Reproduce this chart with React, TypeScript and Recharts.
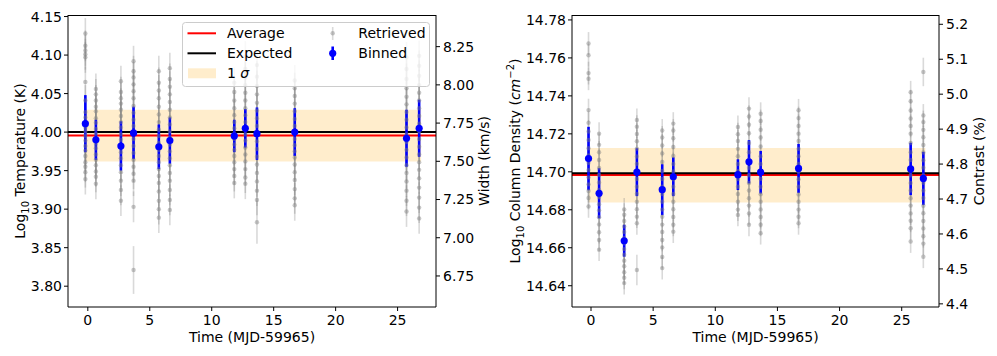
import React from "react";
import { ComposedChart, Scatter, ErrorBar, XAxis, YAxis, ReferenceLine, ReferenceArea } from "recharts";

const FONT = "DejaVu Sans";

// observation epochs (MJD-59965)
const TIMES = [-0.2, 0.65, 2.67, 3.69, 5.73, 6.62, 11.82, 12.71, 13.65, 16.7, 25.72, 26.74];
const BAND_T = [-0.2, 26.9];
const X_TICKS = [0, 5, 10, 15, 20, 25];

// --- left panel: log10 temperature ---
const TEMP_BINNED = [4.011, 3.990, 3.982, 3.999, 3.981, 3.989, 3.995, 4.005, 3.998, 4.000, 3.992, 4.005];
const TEMP_BINNED_ERR = [0.037, 0.026, 0.032, 0.034, 0.029, 0.030, 0.021, 0.025, 0.034, 0.031, 0.037, 0.037];
const TEMP_RETRIEVED = [
  [4.128, 4.112, 4.106, 4.101, 4.097, 4.065, 4.041, 4.026, 4.019, 4.012, 4.006, 4.001, 3.995, 3.989, 3.982, 3.976, 3.969, 3.961, 3.955, 3.948, 3.939],
  [4.056, 4.049, 4.041, 4.033, 4.027, 4.018, 4.012, 4.004, 3.998, 3.991, 3.985, 3.979, 3.971, 3.964, 3.957, 3.949, 3.942, 3.933],
  [4.066, 4.052, 4.044, 4.037, 4.029, 4.021, 4.013, 4.006, 3.997, 3.990, 3.982, 3.974, 3.966, 3.957, 3.948, 3.937, 3.925, 3.911],
  [4.092, 4.079, 4.071, 4.062, 4.053, 4.044, 4.034, 4.025, 4.016, 4.008, 4.000, 3.991, 3.982, 3.973, 3.964, 3.955, 3.946, 3.937, 3.903],
  [4.079, 4.064, 4.054, 4.044, 4.033, 4.023, 4.013, 4.003, 3.995, 3.986, 3.977, 3.969, 3.961, 3.952, 3.943, 3.934, 3.923, 3.911, 3.900, 3.889],
  [4.083, 4.069, 4.059, 4.049, 4.039, 4.029, 4.019, 4.010, 4.001, 3.993, 3.984, 3.975, 3.966, 3.957, 3.947, 3.937, 3.925, 3.912, 3.899],
  [4.064, 4.052, 4.041, 4.031, 4.022, 4.013, 4.005, 3.998, 3.991, 3.984, 3.977, 3.969, 3.961, 3.952, 3.943, 3.934],
  [4.098, 4.082, 4.071, 4.061, 4.051, 4.041, 4.031, 4.022, 4.013, 4.005, 3.997, 3.989, 3.980, 3.971, 3.962, 3.952, 3.941, 3.933],
  [4.087, 4.072, 4.060, 4.049, 4.038, 4.028, 4.018, 4.008, 3.998, 3.988, 3.978, 3.968, 3.958, 3.947, 3.936, 3.924, 3.912],
  [4.067, 4.057, 4.047, 4.037, 4.027, 4.017, 4.008, 3.999, 3.991, 3.983, 3.975, 3.967, 3.958, 3.948, 3.938, 3.926, 3.914, 3.905],
  [4.097, 4.082, 4.069, 4.057, 4.046, 4.036, 4.026, 4.016, 4.006, 3.997, 3.987, 3.977, 3.967, 3.957, 3.947, 3.936, 3.924, 3.911, 3.897],
  [4.099, 4.086, 4.073, 4.061, 4.051, 4.041, 4.031, 4.021, 4.011, 4.001, 3.991, 3.981, 3.971, 3.961, 3.951, 3.940, 3.928, 3.915, 3.902, 3.888],
];
const TEMP_RETRIEVED_ERR = 0.02;
const TEMP_OUTLIER_T = [3.69, 13.65];
const TEMP_OUTLIER_V = [3.821, 3.883];
const TEMP_OUTLIER_ERR = [0.031, 0.028];
const TEMP_AVERAGE = 3.9957;
const TEMP_EXPECTED = 4.0;
const TEMP_SIGMA = [3.962, 4.029];
const TEMP_TICKS = [3.8, 3.85, 3.9, 3.95, 4.0, 4.05, 4.1, 4.15];
const WIDTH_TICKS = [6.75, 7.0, 7.25, 7.5, 7.75, 8.0, 8.25];

// --- right panel: log10 column density ---
const COL_BINNED = [14.707, 14.6887, 14.6637, 14.6998, 14.6906, 14.6974, 14.6985, 14.7053, 14.6998, 14.7018, 14.7015, 14.6965];
const COL_BINNED_ERR = [0.0167, 0.0132, 0.0084, 0.0126, 0.0134, 0.0102, 0.0081, 0.0114, 0.0112, 0.0129, 0.0138, 0.014];
const COL_RETRIEVED = [
  [14.7676, 14.7614, 14.752, 14.749, 14.7325, 14.7258, 14.7212, 14.7168, 14.7124, 14.7086, 14.7048, 14.7009, 14.6971, 14.6934, 14.6899, 14.6862, 14.6818],
  [14.7201, 14.7142, 14.7103, 14.7062, 14.7021, 14.6983, 14.6944, 14.6905, 14.6867, 14.6829, 14.6797, 14.6761, 14.6723, 14.6682, 14.6641, 14.659],
  [14.6802, 14.6774, 14.6741, 14.6712, 14.6683, 14.6652, 14.6624, 14.6593, 14.6563, 14.6532, 14.6503, 14.6471, 14.6442, 14.6414],
  [14.7273, 14.7238, 14.7199, 14.7161, 14.7122, 14.7081, 14.7042, 14.7003, 14.6962, 14.6921, 14.6884, 14.6842, 14.6803, 14.6764, 14.6729],
  [14.7218, 14.7181, 14.7139, 14.7097, 14.7052, 14.7004, 14.6962, 14.6921, 14.6883, 14.6842, 14.6801, 14.6763, 14.6722, 14.6683, 14.6641, 14.6602, 14.6551, 14.6493],
  [14.7254, 14.7218, 14.7177, 14.7131, 14.7083, 14.7041, 14.7002, 14.6961, 14.6922, 14.6883, 14.6842, 14.6803, 14.6762, 14.6721, 14.6685],
  [14.7236, 14.7198, 14.7162, 14.7121, 14.7082, 14.7041, 14.7003, 14.6962, 14.6921, 14.6883, 14.6842, 14.6801, 14.6773],
  [14.7333, 14.7291, 14.7248, 14.7203, 14.7152, 14.7103, 14.7062, 14.7021, 14.6982, 14.6941, 14.6902, 14.6861, 14.6822, 14.6781, 14.6721],
  [14.7306, 14.7268, 14.7222, 14.7181, 14.7133, 14.7082, 14.7041, 14.7002, 14.6963, 14.6921, 14.6882, 14.6843, 14.6802, 14.6762, 14.6721, 14.6677],
  [14.7324, 14.7283, 14.7242, 14.7201, 14.7162, 14.7121, 14.7082, 14.7041, 14.7002, 14.6961, 14.6922, 14.6881, 14.6842, 14.6801, 14.6763, 14.6729],
  [14.7419, 14.7372, 14.7323, 14.7281, 14.7242, 14.7201, 14.7152, 14.7103, 14.7062, 14.7021, 14.6982, 14.6941, 14.6902, 14.6861, 14.6822, 14.6781, 14.6742, 14.6703, 14.6633],
  [14.7297, 14.7262, 14.7221, 14.7182, 14.7141, 14.7102, 14.7061, 14.7022, 14.6981, 14.6942, 14.6901, 14.6862, 14.6821, 14.6782, 14.6741, 14.6702, 14.6661, 14.6622, 14.6553],
];
const COL_RETRIEVED_ERR = 0.006;
const COL_OUTLIER_T = [3.69, 26.74];
const COL_OUTLIER_V = [14.6483, 14.7526];
const COL_OUTLIER_ERR = [0.008, 0.0075];
const COL_AVERAGE = 14.6983;
const COL_EXPECTED = 14.6992;
const COL_SIGMA = [14.6839, 14.7125];
const COL_TICKS = [14.64, 14.66, 14.68, 14.7, 14.72, 14.74, 14.76, 14.78];
const CONTRAST_TICKS = [4.4, 4.5, 4.6, 4.7, 4.8, 4.9, 5.0, 5.1, 5.2];

const tickStyle = { fill: "#000", fontSize: 14, fontFamily: FONT };
const black = { stroke: "#000", strokeWidth: 1 };

function AxisTitle({ px, py, rotate, children }: { px: number; py: number; rotate?: boolean; children: React.ReactNode }) {
  return (
    <text
      x={px}
      y={py}
      textAnchor="middle"
      fontSize={14}
      fontFamily={FONT}
      fill="#000"
      transform={rotate ? `rotate(-90 ${px} ${py})` : undefined}
    >
      {children}
    </text>
  );
}

const grayDot = (p: any) => <circle cx={p.cx} cy={p.cy} r={2.2} fill="#808080" fillOpacity={0.45} />;
const blueDot = (p: any) => <circle cx={p.cx} cy={p.cy} r={3.6} fill="#0000ff" />;

interface PanelProps {
  width: number;
  leftW: number;
  rightW: number;
  xDomain: number[];
  yDomain: number[];
  yTicks: number[];
  yFmt: (v: number) => string;
  y2Domain: number[];
  y2Ticks: number[];
  y2Fmt: (v: number) => string;
  retrieved: number[][];
  retErr: number;
  outT: number[];
  outV: number[];
  outE: number[];
  binned: number[];
  binnedErr: number[];
  average: number;
  expected: number;
  sigma: number[];
  yTitle: React.ReactNode;
  y2Title: string;
  yTitleX: number;
  y2TitleX: number;
}

function Panel(props: PanelProps) {
  const ret = TIMES.flatMap((t, i) => props.retrieved[i].map((v) => ({ t, v, e: props.retErr })));
  props.outT.forEach((t, i) => ret.push({ t, v: props.outV[i], e: props.outE[i] }));
  const bin = TIMES.map((t, i) => ({ t, v: props.binned[i], e: props.binnedErr[i] }));
  const plotH = 292;
  const midY = 15 + plotH / 2;

  return (
    <ComposedChart width={props.width} height={356} margin={{ top: 15, right: 0, bottom: 0, left: 0 }}>
      <XAxis
        dataKey="t"
        type="number"
        domain={props.xDomain}
        allowDataOverflow
        ticks={X_TICKS}
        tick={tickStyle}
        tickSize={4}
        tickMargin={4}
        axisLine={black}
        tickLine={black}
        height={49}
        label={
          <AxisTitle px={props.leftW + (props.width - props.leftW - props.rightW) / 2} py={341.5}>
            Time (MJD-59965)
          </AxisTitle>
        }
      />
      <YAxis
        yAxisId="left"
        type="number"
        domain={props.yDomain}
        allowDataOverflow
        ticks={props.yTicks}
        tickFormatter={props.yFmt}
        tick={tickStyle}
        tickSize={4}
        tickMargin={2}
        axisLine={black}
        tickLine={black}
        width={props.leftW}
        label={<AxisTitle px={props.yTitleX} py={midY} rotate>{props.yTitle}</AxisTitle>}
      />
      <YAxis
        yAxisId="right"
        orientation="right"
        type="number"
        domain={props.y2Domain}
        allowDataOverflow
        ticks={props.y2Ticks}
        tickFormatter={props.y2Fmt}
        tick={tickStyle}
        tickSize={4}
        tickMargin={3}
        axisLine={black}
        tickLine={black}
        width={props.rightW}
        label={<AxisTitle px={props.y2TitleX} py={midY} rotate>{props.y2Title}</AxisTitle>}
      />
      <ReferenceArea yAxisId="left" x1={BAND_T[0]} x2={BAND_T[1]} y1={props.sigma[0]} y2={props.sigma[1]} fill="#ffa500" fillOpacity={0.2} stroke="none" />
      <Scatter yAxisId="left" data={ret} dataKey="v" shape={grayDot} isAnimationActive={false}>
        <ErrorBar dataKey="e" direction="y" width={0} stroke="#808080" strokeOpacity={0.3} strokeWidth={1.6} />
      </Scatter>
      <ReferenceLine yAxisId="left" y={props.average} stroke="#ff0000" strokeWidth={2} />
      <ReferenceLine yAxisId="left" y={props.expected} stroke="#000" strokeWidth={2} />
      <Scatter yAxisId="left" data={bin} dataKey="v" shape={blueDot} isAnimationActive={false}>
        <ErrorBar dataKey="e" direction="y" width={0} stroke="#0000ff" strokeWidth={2.6} />
      </Scatter>
    </ComposedChart>
  );
}

// overlay: top spines of both axes boxes and the legend of the left panel
function Overlay() {
  const txt = { fontSize: 14, fontFamily: FONT, fill: "#000" };
  return (
    <svg width={997} height={356} style={{ position: "absolute", left: 0, top: 0, pointerEvents: "none" }}>
      <line x1={68} x2={436} y1={15.5} y2={15.5} stroke="#000" strokeWidth={1} />
      <line x1={572} x2={939} y1={15.5} y2={15.5} stroke="#000" strokeWidth={1} />
      <rect x={182.5} y={22.5} width={247} height={64} rx={3} fill="#fff" fillOpacity={0.8} stroke="#cccccc" strokeWidth={1} />
      <line x1={187.5} x2={216} y1={33.3} y2={33.3} stroke="#ff0000" strokeWidth={2} />
      <text x={227} y={38.3} {...txt}>Average</text>
      <line x1={187.5} x2={216} y1={53.3} y2={53.3} stroke="#000" strokeWidth={2} />
      <text x={227} y={58.3} {...txt}>Expected</text>
      <rect x={188} y={68.3} width={28} height={10} fill="#ffa500" fillOpacity={0.2} />
      <text x={227} y={78.3} {...txt}>
        1 <tspan fontStyle="italic">σ</tspan>
      </text>
      <line x1={332.7} x2={332.7} y1={27} y2={40} stroke="#808080" strokeOpacity={0.3} strokeWidth={1.6} />
      <circle cx={332.7} cy={33.3} r={2.2} fill="#808080" fillOpacity={0.45} />
      <text x={358.3} y={38.3} {...txt}>Retrieved</text>
      <line x1={332.7} x2={332.7} y1={46.5} y2={60} stroke="#0000ff" strokeWidth={2.6} />
      <circle cx={332.7} cy={53.3} r={3.6} fill="#0000ff" />
      <text x={358.3} y={58.3} {...txt}>Binned</text>
    </svg>
  );
}

export default function App() {
  return (
    <div style={{ position: "absolute", left: 0, top: 0, width: 997, height: 356, background: "#fff" }}>
      <div style={{ position: "absolute", left: 0, top: 0 }}>
        <Panel
          width={500}
          leftW={68}
          rightW={64}
          xDomain={[-1.6, 28.1]}
          yDomain={[3.773, 4.152]}
          yTicks={TEMP_TICKS}
          yFmt={(v) => v.toFixed(2)}
          y2Domain={[6.547, 8.457]}
          y2Ticks={WIDTH_TICKS}
          y2Fmt={(v) => v.toFixed(2)}
          retrieved={TEMP_RETRIEVED}
          retErr={TEMP_RETRIEVED_ERR}
          outT={TEMP_OUTLIER_T}
          outV={TEMP_OUTLIER_V}
          outE={TEMP_OUTLIER_ERR}
          binned={TEMP_BINNED}
          binnedErr={TEMP_BINNED_ERR}
          average={TEMP_AVERAGE}
          expected={TEMP_EXPECTED}
          sigma={TEMP_SIGMA}
          yTitle={
            <>
              Log<tspan fontSize={10} dy={4}>10</tspan>
              <tspan dy={-4}> Temperature (K)</tspan>
            </>
          }
          y2Title="Width (km/s)"
          yTitleX={25}
          y2TitleX={488.5}
        />
      </div>
      <div style={{ position: "absolute", left: 500, top: 0 }}>
        <Panel
          width={497}
          leftW={72}
          rightW={58}
          xDomain={[-1.53, 28.0]}
          yDomain={[14.6288, 14.7826]}
          yTicks={COL_TICKS}
          yFmt={(v) => v.toFixed(2)}
          y2Domain={[4.391, 5.2266]}
          y2Ticks={CONTRAST_TICKS}
          y2Fmt={(v) => v.toFixed(1)}
          retrieved={COL_RETRIEVED}
          retErr={COL_RETRIEVED_ERR}
          outT={COL_OUTLIER_T}
          outV={COL_OUTLIER_V}
          outE={COL_OUTLIER_ERR}
          binned={COL_BINNED}
          binnedErr={COL_BINNED_ERR}
          average={COL_AVERAGE}
          expected={COL_EXPECTED}
          sigma={COL_SIGMA}
          yTitle={
            <>
              Log<tspan fontSize={10} dy={4}>10</tspan>
              <tspan dy={-4}> Column Density (</tspan>
              <tspan fontStyle="italic">cm</tspan>
              <tspan fontSize={10} dy={-6}>−2</tspan>
              <tspan dy={6}>)</tspan>
            </>
          }
          y2Title="Contrast (%)"
          yTitleX={19.5}
          y2TitleX={484}
        />
      </div>
      <Overlay />
    </div>
  );
}
